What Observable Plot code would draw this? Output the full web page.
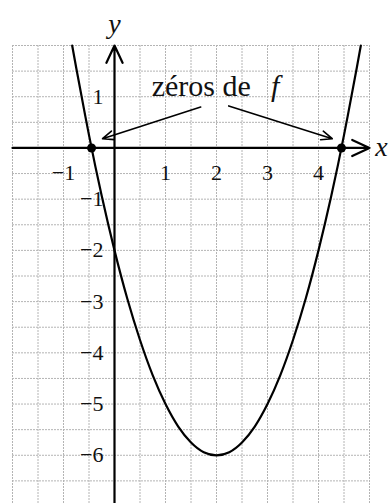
<!DOCTYPE html>
<html>
<head>
<meta charset="utf-8">
<script src="https://cdn.jsdelivr.net/npm/d3@7"></script>
<script src="https://cdn.jsdelivr.net/npm/@observablehq/plot@0.6"></script>
<style>
  html, body { margin: 0; padding: 0; background: #fff; overflow: hidden; }
</style>
</head>
<body>
<div id="chart"></div>
<script>
// Domain of the plotted window
const xDomain = [-2, 5];
const yDomain = [-7, 2];

// Grid lines (every half unit)
const gridX = [-2, -1.5, -1, -0.5, 0, 0.5, 1, 1.5, 2, 2.5, 3, 3.5, 4, 4.5, 5];
const gridY = [-7, -6.5, -6, -5.5, -5, -4.5, -4, -3.5, -3, -2.5, -2, -1.5, -1, -0.5, 0, 0.5, 1, 1.5, 2];

// Tick labels
const xTicks = [-1, 1, 2, 3, 4];
const yTicks = [-6, -5, -4, -3, -2, -1, 1];

// Curve points
const curveX = [-0.83, -0.75, -0.5, -0.25, 0, 0.25, 0.5, 0.75, 1, 1.25, 1.5, 1.75, 2, 2.25, 2.5, 2.75, 3, 3.25, 3.5, 3.75, 4, 4.25, 4.5, 4.75, 4.83];
const curveY = [2.0, 1.56, 0.25, -0.94, -2, -2.94, -3.75, -4.44, -5, -5.44, -5.75, -5.94, -6, -5.94, -5.75, -5.44, -5, -4.44, -3.75, -2.94, -2, -0.94, 0.25, 1.56, 2.0];

// Zeros of f
const zerosX = [-0.45, 4.45];

// Annotation
const annotText = "zéros de";
const annotF = "f";
const annotPos = [1.70, 1.20];
const annotFPos = [3.15, 1.20];
const arrowFrom = [[1.69, 0.80], [2.24, 0.82]];
const arrowTo = [[-0.235, 0.18], [4.27, 0.18]];

const minus = v => (v < 0 ? "\u2212" + Math.abs(v) : String(v));

const curve = curveX.map((x, i) => ({x, y: curveY[i]}));
const arrows = arrowFrom.map((p, i) => ({x1: p[0], y1: p[1], x2: arrowTo[i][0], y2: arrowTo[i][1]}));

const font = "Liberation Serif";

const chart = Plot.plot({
  width: 390,
  height: 506,
  marginLeft: 12,
  marginRight: 21,
  marginTop: 45,
  marginBottom: 0,
  x: {domain: xDomain, axis: null},
  y: {domain: yDomain, axis: null},
  style: {background: "white", overflow: "visible"},
  marks: [
    Plot.ruleX(gridX, {x: d => d, y1: yDomain[0], y2: yDomain[1], stroke: "#b4b4b4", strokeWidth: 1, strokeDasharray: "2,1"}),
    Plot.ruleY(gridY, {y: d => d, x1: xDomain[0], x2: xDomain[1], stroke: "#b4b4b4", strokeWidth: 1, strokeDasharray: "2,1"}),
    // axes
    Plot.arrow([{x1: xDomain[0], y1: 0, x2: xDomain[1], y2: 0}], {x1: "x1", y1: "y1", x2: "x2", y2: "y2", stroke: "black", strokeWidth: 2.2, headLength: 13, headAngle: 50}),
    Plot.arrow([{x1: 0, y1: yDomain[0], x2: 0, y2: yDomain[1]}], {x1: "x1", y1: "y1", x2: "x2", y2: "y2", stroke: "black", strokeWidth: 2.2, headLength: 13, headAngle: 50}),
    // tick labels
    Plot.text(xTicks, {x: d => d, y: 0, text: minus, dy: 25, fontSize: 22, fontFamily: font, fill: "#111"}),
    Plot.text(yTicks, {x: 0, y: d => d, text: minus, dx: -11, textAnchor: "end", fontSize: 22, fontFamily: font, fill: "#111"}),
    // axis names
    Plot.text(["x"], {x: xDomain[1], y: 0, text: d => d, dx: 12, dy: -1, fontSize: 28, fontFamily: font, fontStyle: "italic", fill: "#111"}),
    Plot.text(["y"], {x: 0, y: yDomain[1], text: d => d, dy: -21, fontSize: 28, fontFamily: font, fontStyle: "italic", fill: "#111"}),
    // curve
    Plot.line(curve, {x: "x", y: "y", stroke: "black", strokeWidth: 2.2, curve: "natural"}),
    // zeros
    Plot.dot(zerosX, {x: d => d, y: 0, r: 4.5, fill: "black"}),
    // annotation
    Plot.arrow(arrows, {x1: "x1", y1: "y1", x2: "x2", y2: "y2", stroke: "black", strokeWidth: 1.6, headLength: 11, headAngle: 45}),
    Plot.text([annotText], {x: annotPos[0], y: annotPos[1], text: d => d, fontSize: 30, fontFamily: font, fill: "#111"}),
    Plot.text([annotF], {x: annotFPos[0], y: annotFPos[1], text: d => d, fontSize: 30, fontFamily: font, fontStyle: "italic", fill: "#111"})
  ]
});

document.getElementById("chart").appendChild(chart);
</script>
</body>
</html>
